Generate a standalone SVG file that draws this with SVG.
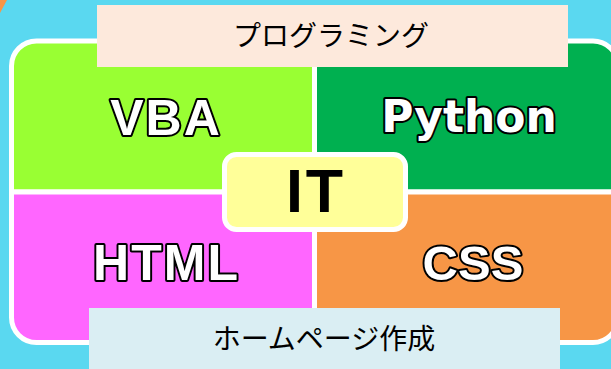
<svg xmlns="http://www.w3.org/2000/svg" width="611" height="369" viewBox="0 0 611 369">
<style>
.quad{stroke:#fff;stroke-width:5;stroke-linejoin:miter}
.big{font-family:"Liberation Sans",Arial,sans-serif;font-weight:bold;font-size:50px;fill:#fff;stroke:#000;stroke-width:4;paint-order:stroke;stroke-linejoin:round;text-anchor:middle}
.lbl{font-family:"Noto Sans CJK JP","Noto Sans",sans-serif;font-size:28px;fill:#000;text-anchor:middle}
</style>
<rect width="611" height="369" fill="#5AD8F0"/>
<polygon points="0,0 7,0 0,13" fill="#F79646"/>
<g id="vba">
<path class="quad" fill="#99FF33" d="M11.5 192 V66 A25 25 0 0 1 36.5 41 H314.5 V192 Z"/>
<text class="big" x="166" y="135" letter-spacing="2">VBA</text>
</g>
<g id="python">
<path class="quad" fill="#00B050" d="M314.5 41 H593 A25 25 0 0 1 618 66 V192 H314.5 Z"/>
<text class="big" x="469" y="132" style="font-family:'DejaVu Sans',Verdana,sans-serif;font-size:44px">Python</text>
</g>
<g id="html">
<path class="quad" fill="#FF66FF" d="M11.5 192 H314.5 V342.5 H36.5 A25 25 0 0 1 11.5 317.5 Z"/>
<text class="big" x="166.5" y="280" letter-spacing="2">HTML</text>
</g>
<g id="css">
<path class="quad" fill="#F79646" d="M314.5 192 H618 V317.5 A25 25 0 0 1 593 342.5 H314.5 Z"/>
<text class="big" x="473" y="280" style="font-size:49px">CSS</text>
</g>
<g id="it">
<rect x="224.5" y="154.5" width="181" height="75" rx="12" fill="#FFFF99" stroke="#fff" stroke-width="5"/>
<text x="316" y="212" font-family="'Liberation Sans',Arial,sans-serif" font-weight="bold" font-size="61" letter-spacing="3" text-anchor="middle" fill="#000">IT</text>
</g>
<g id="programming">
<rect x="97" y="5" width="471" height="62" fill="#FDE9DC"/>
<text class="lbl" x="331" y="46">プログラミング</text>
</g>
<g id="homepage">
<rect x="89" y="308" width="471" height="65" fill="#DAEEF3"/>
<text class="lbl" x="324" y="349">ホームページ作成</text>
</g>
</svg>
